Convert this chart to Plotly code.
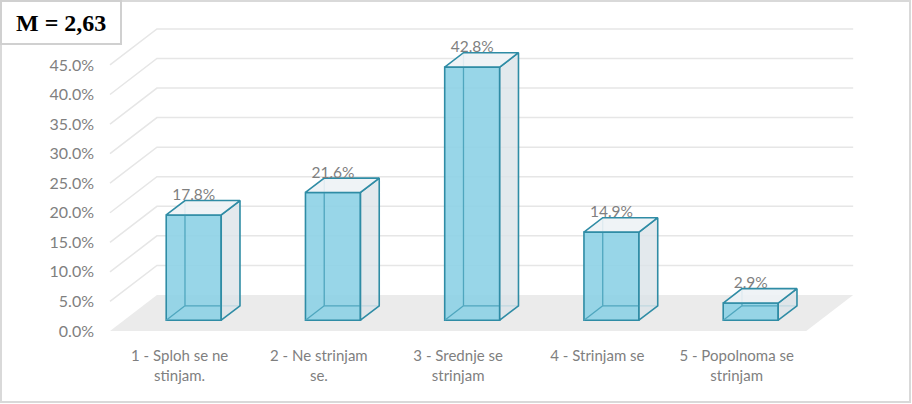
import plotly.graph_objects as go

categories = [
    "1 - Sploh se ne<br>stinjam.",
    "2 - Ne strinjam<br>se.",
    "3 - Srednje se<br>strinjam",
    "4 - Strinjam se",
    "5 - Popolnoma se<br>strinjam",
]
shares = [0.178, 0.216, 0.428, 0.149, 0.029]
y_ticks = [0.0, 0.05, 0.10, 0.15, 0.20, 0.25, 0.30, 0.35, 0.40, 0.45]
mean_label = "M = 2,63"

# page / plot area in pixels
W, H = 912, 404
L, R, T, B = 105, 52, 20, 61
X_RANGE = [-0.536, 4.886]
Y_RANGE = [-0.0203, 0.526]

# fake 3d: full depth of the box, bar sits between F0 and F1 of it
DX, DY = 0.337, 0.0609
F0, F1 = 0.3, 0.7
BW = 0.395

EDGE = "#2F8CA5"
GREY = "#7F7F7F"
FONT = "Lato"


def px_x(p):
    return (p - L) / (W - L - R)


def px_y(p):
    return 1 - (p - T) / (H - T - B)


idx = list(range(len(shares)))
x_lo, x_hi = -0.5, len(shares) - 0.5

# side, top and see-through edges of each bar, built from the values
side_x, side_y, top_x, top_y, hid_x, hid_y = [], [], [], [], [], []
for i, v in zip(idx, shares):
    l0, r0 = i - BW / 2 + F0 * DX, i + BW / 2 + F0 * DX
    l1, r1 = i - BW / 2 + F1 * DX, i + BW / 2 + F1 * DX
    b0, b1 = F0 * DY, F1 * DY
    side_x += [r0, r1, r1, r0, r0, None]
    side_y += [b0, b1, v + b1, v + b0, b0, None]
    top_x += [l0, l1, r1, r0, l0, None]
    top_y += [v + b0, v + b1, v + b1, v + b0, v + b0, None]
    hid_x += [l1, l1, None, l1, r1, None, l0, l1, None]
    hid_y += [v + b1, b1, None, b1, b1, None, b0, b1, None]

fig = go.Figure()

fig.add_trace(go.Bar(
    x=[i + F0 * DX for i in idx],
    y=shares,
    base=F0 * DY,
    width=BW,
    marker=dict(color="rgba(141,210,229,0.9)", line=dict(color=EDGE, width=1.6)),
    customdata=[c.replace("<br>", " ") for c in categories],
    hovertemplate="%{customdata}: %{y:.1%}<extra></extra>",
))

fig.add_trace(go.Scatter(
    x=hid_x, y=hid_y, mode="lines",
    line=dict(color="#4FA6BE", width=1.3), hoverinfo="skip",
))
fig.add_trace(go.Scatter(
    x=side_x, y=side_y, mode="lines", fill="toself",
    fillcolor="rgba(220,228,233,0.8)",
    line=dict(color=EDGE, width=1.6), hoverinfo="skip",
))
fig.add_trace(go.Scatter(
    x=top_x, y=top_y, mode="lines", fill="toself",
    fillcolor="rgba(237,242,245,0.9)",
    line=dict(color=EDGE, width=1.6), hoverinfo="skip",
))
# value labels sit just above the back top edge
fig.add_trace(go.Scatter(
    x=[i + F0 * DX for i in idx],
    y=[v + F1 * DY + 0.007 for v in shares],
    text=[f"{v:.1%}" for v in shares],
    mode="text",
    textfont=dict(family=FONT, size=15.5, color=GREY),
    hoverinfo="skip",
))

shapes = []
# floor
shapes.append(dict(
    type="path", xref="x", yref="y", layer="below",
    path=f"M {x_lo},0 L {x_hi},0 L {x_hi + DX},{DY} L {x_lo + DX},{DY} Z",
    fillcolor="#EBEBEB", line=dict(width=0),
))
# gridlines on side and back wall
for t in y_ticks[1:]:
    shapes.append(dict(
        type="path", xref="x", yref="y", layer="below",
        path=f"M {x_lo},{t} L {x_lo + DX},{t + DY} L {x_hi + DX},{t + DY}",
        line=dict(color="#E6E6E6", width=1.5),
    ))
# outer frame and the mean box
shapes.append(dict(
    type="rect", xref="paper", yref="paper",
    x0=px_x(1), x1=px_x(910), y0=px_y(1), y1=px_y(402),
    line=dict(color="#D9D9D9", width=2),
))
shapes.append(dict(
    type="rect", xref="paper", yref="paper",
    x0=px_x(1), x1=px_x(121), y0=px_y(1), y1=px_y(44),
    fillcolor="white", line=dict(color="#D0D0D0", width=2),
))

fig.update_layout(
    width=W, height=H,
    margin=dict(l=L, r=R, t=T, b=B),
    paper_bgcolor="white", plot_bgcolor="white",
    showlegend=False,
    shapes=shapes,
    annotations=[dict(
        text=f"<b>{mean_label}</b>", xref="paper", yref="paper",
        x=px_x(61), y=px_y(23), xanchor="center", yanchor="middle",
        showarrow=False,
        font=dict(family="Liberation Serif", size=24, color="black"),
    )],
    xaxis=dict(
        range=X_RANGE, showgrid=False, zeroline=False, showline=False,
        tickvals=idx, ticktext=categories, ticklabelstandoff=2,
        tickfont=dict(family=FONT, size=15, color=GREY),
    ),
    yaxis=dict(
        range=Y_RANGE, showgrid=False, zeroline=False, showline=False,
        tickvals=y_ticks, tickformat=".1%", ticklabelstandoff=10,
        tickfont=dict(family=FONT, size=16, color=GREY),
    ),
)

# drop the default page margin so the figure starts at the window corner
fig.write_html(
    "out.html",
    config={"displayModeBar": False},
    post_script="document.body.style.margin = '0';",
)
